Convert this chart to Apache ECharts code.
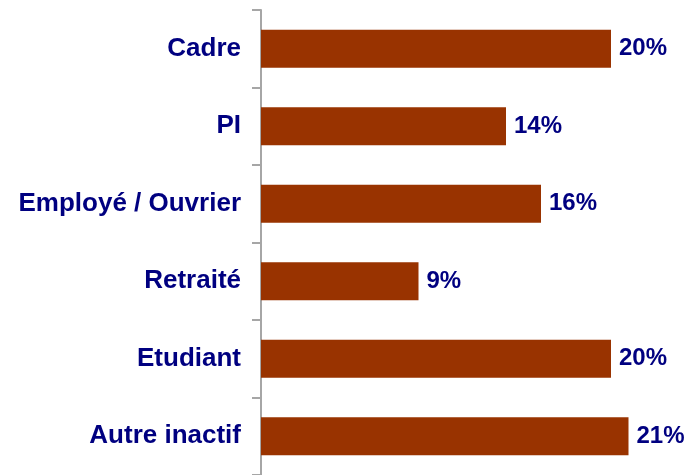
<!DOCTYPE html>
<html>
<head>
<meta charset="utf-8">
<script src="https://cdn.jsdelivr.net/npm/echarts@6/dist/echarts.min.js"></script>
<style>
    html, body { margin: 0; padding: 0; background: #fff; }
    #main { width: 690px; height: 475px; }
</style>
</head>
<body>
<div id="main"></div>
<script type="text/javascript">
    // catégories et valeurs (%)
    var categories = ['Cadre', 'PI', 'Employé / Ouvrier', 'Retraité', 'Etudiant', 'Autre inactif'];
    var values = [20, 14, 16, 9, 20, 21];

    var myChart = echarts.init(document.getElementById('main'));

    var option = {
        animation: false,
        grid: { left: 261, right: 44, top: 10, height: 468 },
        xAxis: {
            type: 'value',
            min: 0,
            max: 22,
            show: false
        },
        yAxis: {
            type: 'category',
            inverse: true,
            data: categories,
            axisLine: { show: true, lineStyle: { color: '#A6A6A6', width: 2 } },
            axisTick: { show: true, length: 9, lineStyle: { color: '#A6A6A6', width: 2 } },
            axisLabel: {
                margin: 20,
                color: '#000080',
                fontFamily: 'Arial, "Liberation Sans", sans-serif',
                fontWeight: 'bold',
                fontSize: 26
            }
        },
        series: [{
            type: 'bar',
            data: values,
            barWidth: 38,
            itemStyle: { color: '#993300' },
            label: {
                show: true,
                position: 'right',
                distance: 8,
                formatter: '{c}%',
                color: '#000080',
                fontFamily: 'Arial, "Liberation Sans", sans-serif',
                fontWeight: 'bold',
                fontSize: 24
            }
        }]
    };

    myChart.setOption(option);
</script>
</body>
</html>
